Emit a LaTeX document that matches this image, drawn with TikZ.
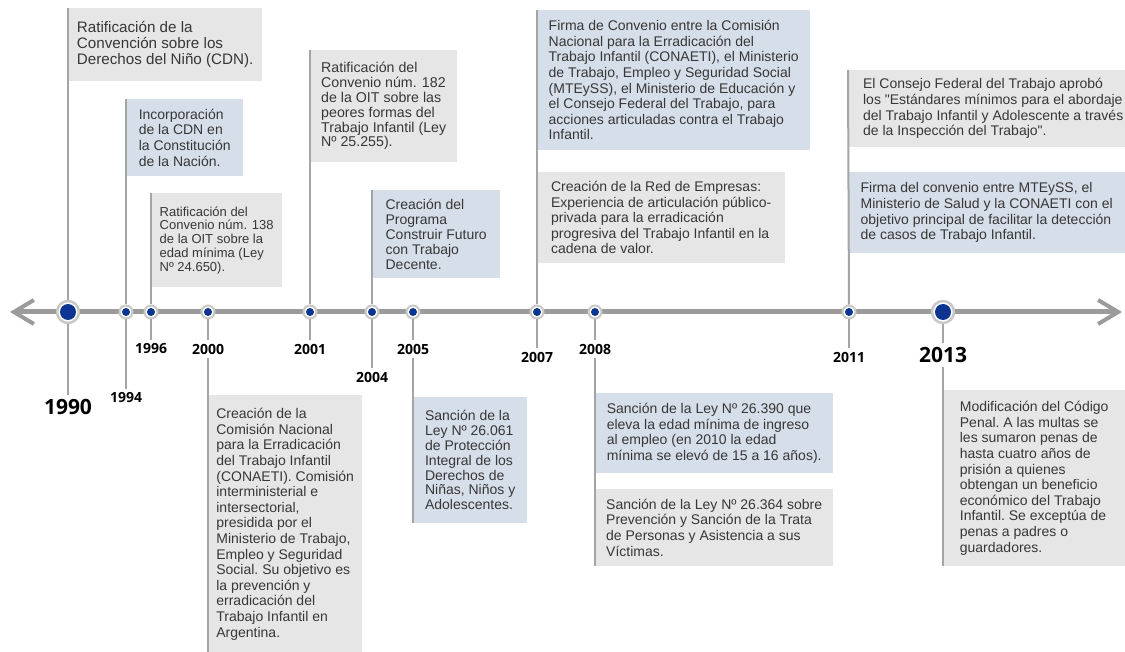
\documentclass[tikz,border=0pt]{standalone}
\usepackage{fontspec}
\setmainfont{Liberation Sans}
\newfontfamily\yearfont{Open Sans}
\usetikzlibrary{arrows.meta}

\definecolor{axisgray}{RGB}{155,155,155}
\definecolor{linegray}{RGB}{165,165,165}
\definecolor{ringgray}{RGB}{200,200,200}
\definecolor{boxgray}{RGB}{230,230,230}
\definecolor{boxblue}{RGB}{214,222,233}
\definecolor{txt}{RGB}{55,55,55}
\definecolor{dotblue}{RGB}{12,52,145}

\newcommand{\evfont}{\fontsize{14}{15.6}\selectfont\frenchspacing}

\tikzset{
	evbox/.style={anchor=north west, align=left, text=txt, font=\evfont, inner xsep=4pt, inner ysep=0pt},
	graybox/.style={evbox, fill=boxgray},
	bluebox/.style={evbox, fill=boxblue},
	vline/.style={draw=linegray, line width=2pt},
	dot/.style={circle, draw=ringgray, line width=2pt, fill=white, minimum size=13pt, inner sep=0pt,
		path picture={\fill[dotblue] (path picture bounding box.center) circle (4pt);}},
	bigdot/.style={circle, draw=ringgray, line width=2.5pt, fill=white, minimum size=22pt, inner sep=0pt,
		path picture={\fill[dotblue] (path picture bounding box.center) circle (8pt);}},
	yr/.style={font=\yearfont\bfseries\fontsize{14}{14}\selectfont, text=black, inner sep=4pt},
	bigyr/.style={font=\yearfont\bfseries\fontsize{21}{21}\selectfont, text=black, inner sep=4pt},
	barb/.tip={Straight Barb[length=20pt,width=24pt,line width=4pt]}
}

\begin{document}
\begin{tikzpicture}[x=1pt, y=-1pt]
	\useasboundingbox (0,0) rectangle (1125,652);

	\draw [draw=axisgray, line width=5pt, barb-barb] (10,312) -- (1122,312);

	% dots on the axis
	\node [bigdot] (d1990) at (68,312) {};
	\node [bigdot] (d2013) at (943,312) {};
	\foreach \yy/\xx in {1994/126, 1996/151, 2000/208, 2001/310, 2004/372, 2005/413, 2007/537, 2008/595, 2011/849}
		\node [dot] (d\yy) at (\xx,312) {};

	% years
	\node [bigyr] (y1990) at (68,407) {1990};
	\node [yr] (y1994) at (126,398) {1994};
	\node [yr] (y1996) at (151,349) {1996};
	\node [yr] (y2000) at (208,349) {2000};
	\node [yr] (y2001) at (310,349) {2001};
	\node [yr] (y2004) at (372,377) {2004};
	\node [yr] (y2005) at (413,349) {2005};
	\node [yr] (y2007) at (537,357) {2007};
	\node [yr] (y2008) at (595,349) {2008};
	\node [yr] (y2011) at (849,357) {2011};
	\node [bigyr] (y2013) at (943,355) {2013};

	% events above the axis
	\node [graybox, font=\fontsize{15.2}{16}\selectfont, minimum width=194pt, minimum height=73pt] (b1990) at (68,8)
		{Ratificación de la\\Convención sobre los\\Derechos del Niño (CDN).};
	\node [bluebox, minimum width=117pt, minimum height=77pt] (b1994) at (126,99)
		{Incorporación\\de la CDN en\\la Constitución\\de la Nación.};
	\node [graybox, font=\fontsize{13}{13.8}\selectfont, minimum width=131pt, minimum height=94pt] (b1996) at (151,193)
		{Ratificación del\\Convenio núm. 138\\de la OIT sobre la\\edad mínima (Ley\\Nº 24.650).};
	\node [graybox, font=\fontsize{14.2}{14.8}\selectfont, minimum width=147pt, minimum height=112pt] (b2001) at (310,50)
		{Ratificación del\\Convenio núm. 182\\de la OIT sobre las\\peores formas del\\Trabajo Infantil (Ley\\Nº 25.255).};
	\node [bluebox, font=\fontsize{14}{15}\selectfont, minimum width=128pt, minimum height=88pt] (b2004) at (372,190)
		{Creación del\\Programa\\Construir Futuro\\con Trabajo\\Decente.};
	\node [bluebox, minimum width=273pt, minimum height=140pt] (b2007a) at (537,10)
		{Firma de Convenio entre la Comisión\\Nacional para la Erradicación del\\Trabajo Infantil (CONAETI), el Ministerio\\de Trabajo, Empleo y Seguridad Social\\(MTEySS), el Ministerio de Educación y\\el Consejo Federal del Trabajo, para\\acciones articuladas contra el Trabajo\\Infantil.};
	\node [graybox, minimum width=248pt, minimum height=91pt] (b2007b) at (537,172)
		{Creación de la Red de Empresas:\\Experiencia de articulación público-\\privada para la erradicación\\progresiva del Trabajo Infantil en la\\cadena de valor.};
	\node [graybox, minimum width=290pt, minimum height=77pt] (b2011a) at (848,70)
		{El Consejo Federal del Trabajo aprobó\\los \textquotedbl Estándares mínimos para el abordaje\\del Trabajo Infantil y Adolescente a través\\de la Inspección del Trabajo\textquotedbl .};
	\node [bluebox, minimum width=277pt, minimum height=81pt] (b2011b) at (848,172)
		{Firma del convenio entre MTEySS, el\\Ministerio de Salud y la CONAETI con el\\objetivo principal de facilitar la detección\\de casos de Trabajo Infantil.};

	% events below the axis
	\node [graybox, minimum width=154pt, minimum height=258pt] (b2000) at (208,395)
		{Creación de la\\Comisión Nacional\\para la Erradicación\\del Trabajo Infantil\\(CONAETI). Comisión\\interministerial e\\intersectorial,\\presidida por el\\Ministerio de Trabajo,\\Empleo y Seguridad\\Social. Su objetivo es\\la prevención y\\erradicación del\\Trabajo Infantil en\\Argentina.};
	\node [bluebox, font=\fontsize{14}{14.8}\selectfont, minimum width=114pt, minimum height=126pt] (b2005) at (413,397)
		{Sanción de la\\Ley Nº 26.061\\de Protección\\Integral de los\\Derechos de\\Niñas, Niños y\\Adolescentes.};
	\node [bluebox, minimum width=238pt, minimum height=80pt] (b2008a) at (595,393)
		{Sanción de la Ley Nº 26.390 que\\eleva la edad mínima de ingreso\\al empleo (en 2010 la edad\\mínima se elevó de 15 a 16 años).};
	\node [graybox, minimum width=238pt, minimum height=77pt] (b2008b) at (595,489)
		{Sanción de la Ley Nº 26.364 sobre\\Prevención y Sanción de la Trata\\de Personas y Asistencia a sus\\Víctimas.};
	\node [graybox, minimum width=182pt, minimum height=176pt] (b2013) at (943,390)
		{Modificación del Código\\Penal. A las multas se\\les sumaron penas de\\hasta cuatro años de\\prisión a quienes\\obtengan un beneficio\\económico del Trabajo\\Infantil. Se exceptúa de\\penas a padres o\\guardadores.};

	% connectors
	\draw [vline] (b1990.north west) -- (d1990);
	\draw [vline] (d1990) -- (y1990);
	\draw [vline] (b1994.north west) -- (d1994);
	\draw [vline] (d1994) -- (y1994);
	\draw [vline] (b1996.north west) -- (d1996);
	\draw [vline] (d1996) -- (y1996);
	\draw [vline] (d2000) -- (y2000);
	\draw [vline] (y2000) -- (b2000.south west);
	\draw [vline] (b2001.north west) -- (d2001);
	\draw [vline] (d2001) -- (y2001);
	\draw [vline] (b2004.north west) -- (d2004);
	\draw [vline] (d2004) -- (y2004);
	\draw [vline] (d2005) -- (y2005);
	\draw [vline] (y2005) -- (b2005.south west);
	\draw [vline] (b2007a.north west) -- (d2007);
	\draw [vline] (d2007) -- (y2007);
	\draw [vline] (d2008) -- (y2008);
	\draw [vline] (y2008) -- (b2008b.south west);
	\draw [vline] (b2011a.north west) -- (d2011);
	\draw [vline] (d2011) -- (y2011);
	\draw [vline] (d2013) -- (y2013);
	\draw [vline] (y2013) -- (b2013.south west);
\end{tikzpicture}
\end{document}
